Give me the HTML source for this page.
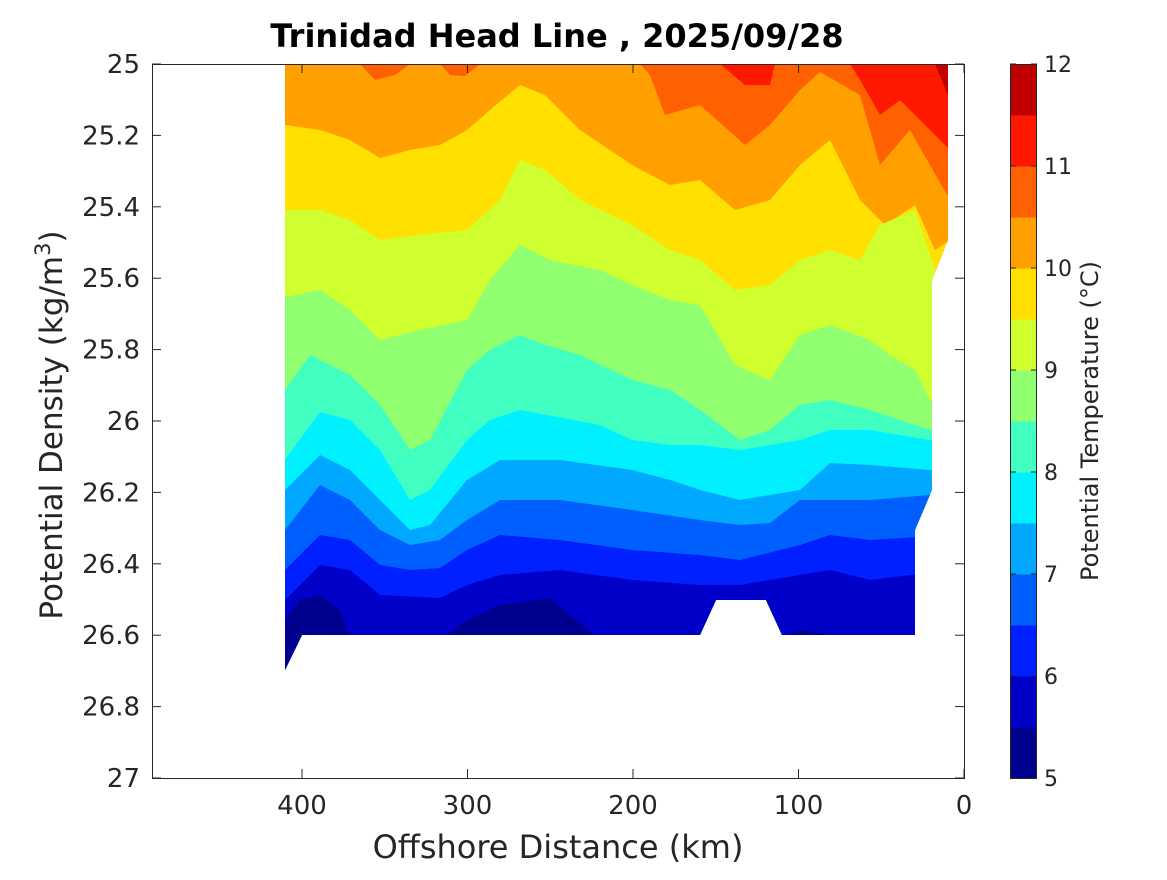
<!DOCTYPE html>
<html><head><meta charset="utf-8"><style>
body{margin:0;background:#fff;}
svg text{font-family:"DejaVu Sans","Liberation Sans",sans-serif;fill:#262626;}
</style></head><body>
<svg id="s" width="1167" height="875" xmlns="http://www.w3.org/2000/svg">
<defs><clipPath id="cp"><polygon points="285,64 948,64 948,240 932,280 932,490 915,530 915,635 782,635 766,600 716,600 700,635 302,635 285,670"/></clipPath></defs>
<g id="fill" clip-path="url(#cp)"><rect x="285" y="64" width="670" height="610" fill="#ff6000"/></g>
<rect x="152.5" y="64.5" width="812" height="714" fill="none" stroke="#262626" stroke-width="1"/>
<g id="ticks" stroke="#262626" stroke-width="1"></g>
<g id="labels" font-size="26"></g>
<text x="557" y="47" font-size="32" font-weight="bold" text-anchor="middle" style="fill:#000">Trinidad Head Line , 2025/09/28</text>
<text x="558" y="858" font-size="32" text-anchor="middle">Offshore Distance (km)</text>
<text transform="translate(62,425) rotate(-90)" font-size="31" text-anchor="middle">Potential Density (kg/m<tspan baseline-shift="super" font-size="21">3</tspan>)</text>
<g id="cbar"></g>
<rect x="1010.5" y="64.5" width="26" height="714" fill="none" stroke="#262626"/>
<text transform="translate(1098,421) rotate(-90)" font-size="24" text-anchor="middle">Potential Temperature (°C)</text>
</svg>
<script>
const NS="http://www.w3.org/2000/svg";
function el(p,t,a,txt){const e=document.createElementNS(NS,t);for(const k in a)e.setAttribute(k,a[k]);if(txt!==undefined)e.textContent=txt;document.getElementById(p).appendChild(e);return e;}
const cols=["#00008f","#0000c8","#0020ff","#0060ff","#00a8ff","#00f0ff","#40ffc0","#90ff70","#d0ff30","#ffe000","#ffa000","#ff6000","#ff1800","#c00000"];
const C=[
[10,[[600,64],[640,64],[650,75],[665,115],[700,105],[745,145],[770,125],[800,90],[820,72],[860,95],[880,165],[910,130],[950,200]]],
[9,[[285,125],[320,130],[350,140],[380,158],[410,150],[440,145],[467,130],[490,110],[520,85],[545,95],[580,130],[632,165],[670,185],[700,180],[735,210],[770,200],[800,165],[830,140],[860,200],[885,225],[915,205],[935,250],[950,240]]],
[8,[[285,210],[320,210],[350,220],[380,240],[420,235],[467,230],[500,200],[520,160],[545,170],[580,200],[632,225],[670,250],[700,260],[735,290],[770,285],[800,260],[830,250],[860,260],[880,225],[915,210],[935,270],[950,280]]],
[7,[[285,297],[320,290],[350,310],[380,340],[420,330],[467,320],[490,280],[520,245],[550,260],[600,270],[632,285],[670,300],[700,305],[735,365],[770,380],[800,335],[830,325],[870,340],[890,355],[915,370],[930,400],[950,400]]],
[6,[[285,390],[310,355],[350,375],[380,405],[410,450],[430,440],[467,370],[490,350],[520,335],[545,345],[580,355],[632,380],[670,390],[700,410],[740,440],[770,430],[800,405],[830,400],[870,410],[930,430],[950,430]]],
[5,[[285,460],[320,412],[350,420],[380,450],[410,500],[430,490],[467,440],[490,420],[520,410],[600,425],[632,440],[670,445],[700,445],[740,450],[800,440],[830,430],[870,430],[930,440],[950,440]]],
[4,[[285,490],[320,455],[350,470],[380,500],[410,530],[430,525],[467,480],[500,460],[560,460],[632,470],[670,480],[700,490],[740,500],[800,490],[830,463],[870,465],[930,470],[950,470]]],
[3,[[285,530],[320,485],[350,500],[380,530],[410,545],[440,540],[467,520],[500,500],[560,500],[632,510],[700,520],[740,525],[770,523],[800,500],[830,500],[870,500],[930,495],[950,495]]],
[2,[[285,570],[320,535],[350,540],[380,565],[410,570],[440,568],[467,550],[500,535],[560,540],[632,550],[700,555],[740,560],[800,545],[830,535],[870,540],[950,535]]],
[1,[[285,600],[320,565],[350,570],[380,595],[440,598],[467,585],[500,575],[560,570],[632,580],[700,585],[740,585],[800,575],[830,570],[870,580],[950,570]]],
[0,[[285,620],[300,600],[320,595],[340,610],[350,640],[440,640],[467,620],[500,605],[550,598],[600,640],[780,640],[800,630],[830,635],[950,640]]]
];
for(const [ci,pts] of C){
 let s=pts.map(p=>p.join(",")).join(" ");
 s="285,"+pts[0][1]+" "+s+" 960,"+pts[pts.length-1][1]+" 960,700 285,700";
 if(ci==10) s="285,64 "+s;
 el("fill","polygon",{points:s,fill:cols[ci]});
}
el("fill","polygon",{points:"850,64 950,64 950,150 930,130 900,100 880,115 860,80",fill:"#ff1800"});
el("fill","polygon",{points:"720,64 775,64 770,85 745,85",fill:"#ff1800"});
el("fill","polygon",{points:"935,64 950,64 950,100",fill:"#c00000"});
el("fill","polygon",{points:"360,64 410,64 395,75 375,80",fill:"#ff6000"});
el("fill","polygon",{points:"440,64 480,64 465,76 450,75",fill:"#ff6000"});
for(let i=0;i<=10;i++){const y=64+i*71.4;const v=(25+i*0.2);
 el("ticks","line",{x1:152,x2:161,y1:y,y2:y});el("ticks","line",{x1:964,x2:955,y1:y,y2:y});
 el("labels","text",{x:140,y:y+9,"text-anchor":"end"},(+v.toFixed(1)).toString());}
for(let k=0;k<=4;k++){const x=964-k*100*1.655;
 el("ticks","line",{x1:x,x2:x,y1:778,y2:769});el("ticks","line",{x1:x,x2:x,y1:64,y2:73});
 el("labels","text",{x:x,y:814,"text-anchor":"middle"},String(k*100));}
for(let i=0;i<14;i++){el("cbar","rect",{x:1010,y:778-(i+1)*51,width:27,height:51.5,fill:cols[i]});}
for(let v=5;v<=12;v++){const y=778-(v-5)*102;
 el("cbar","line",{x1:1010,x2:1016,y1:y,y2:y,stroke:"#262626"});el("cbar","line",{x1:1037,x2:1031,y1:y,y2:y,stroke:"#262626"});
 el("cbar","text",{x:1044,y:y+8,"font-size":"22"},String(v));}
</script>
</body></html>
